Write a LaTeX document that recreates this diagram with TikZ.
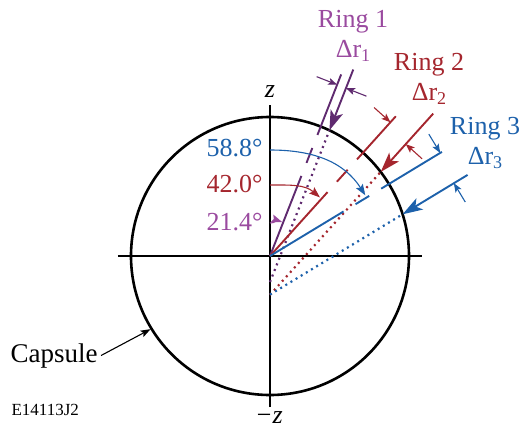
\documentclass[tikz,border=0pt]{standalone}
\usepackage{fontspec}
\setmainfont{Liberation Serif}
\usetikzlibrary{arrows.meta,calc,positioning}
\definecolor{PL}{HTML}{9A4A9F}
\definecolor{PD}{HTML}{5F2A6F}
\definecolor{RD}{HTML}{A5262E}
\definecolor{BD}{HTML}{1D61AB}
\newcommand{\ringsub}[1]{\raisebox{-4pt}{\fontsize{18}{18}\selectfont #1}}

\begin{document}
\begin{tikzpicture}[x=1pt, y=1pt,
    ray/.style={line width=1.9pt},
    sight/.style={line width=2.2pt, dash pattern=on 2pt off 4pt},
    drarrow/.style={line width=1.1pt, -{Stealth[length=9pt,width=7pt,inset=2pt]}},
    bigarrow/.style={line width=1.9pt, -{Stealth[length=20pt,width=13pt,inset=5pt]}},
    arcline/.style={line width=1.1pt, -{Stealth[length=11pt,width=8pt,inset=2pt]}},
    lbl/.style={font=\fontsize{26}{30}\selectfont}]

  \useasboundingbox (-270,-173) rectangle (254,256);

  %% capsule and axes
  \coordinate (O) at (0,0);
  \draw[line width=2.6pt] (O) circle (139);
  \coordinate (xl) at (-152,0);
  \coordinate (xr) at (152,0);
  \coordinate (zt) at (0,151);
  \coordinate (zb) at (0,-151);
  \draw[line width=2pt] (xl) -- (xr);
  \draw[line width=2pt] (zb) -- (zt);
  \node[font=\fontsize{26}{30}\selectfont\itshape] (ztop) at (0,164) {z};
  \node[font=\fontsize{26}{30}\selectfont\itshape] (zbot) at (-1,-162) {−z};

  %% rings: name/angle/offset/outer end/arrow tail/marks/colour
  \foreach \nm/\ang/\off/\souter/\stail/\tka/\tkb/\col in {
      one/68.6/9.5/195/204/184/184/PD,
      two/48/26/188/215/180/174/RD,
      three/31.2/33/201/211/199/195/BD}{
    \pgfmathsetmacro{\scirc}{139*sqrt(1-(\off/139)^2)}
    \pgfmathsetmacro{\zcut}{-\off/cos(\ang)}
    %% line through the centre
    \coordinate (\nm-a) at (\ang:86);
    \coordinate (\nm-b) at (\ang:100);
    \coordinate (\nm-c) at (\ang:116);
    \coordinate (\nm-d) at (\ang:130);
    \coordinate (\nm-e) at (\ang:\souter);
    \draw[\col, ray] (O) -- (\nm-a) (\nm-b) -- (\nm-c) (\nm-d) -- (\nm-e);
    %% shifted line of sight
    \coordinate (\nm-z) at (0,\zcut);
    \coordinate (\nm-h) at ($(\ang:\scirc)+(\ang-90:\off)$);
    \coordinate (\nm-t) at ($(\ang:\stail)+(\ang-90:\off)$);
    \draw[\col, sight] (\nm-z) -- (\nm-h);
    \draw[\col, bigarrow] (\nm-t) -- (\nm-h);
    %% delta r marks
    \coordinate (\nm-p) at (\ang:\tka);
    \coordinate (\nm-q) at ($(\ang:\tkb)+(\ang-90:\off)$);
    \coordinate (\nm-pp) at ($(\nm-p)+(\ang+90:22)$);
    \coordinate (\nm-qq) at ($(\nm-q)+(\ang-90:22)$);
    \draw[\col, drarrow] (\nm-pp) -- (\nm-p);
    \draw[\col, drarrow] (\nm-qq) -- (\nm-q);
  }

  %% viewing angles
  \coordinate (angA-s) at (0,33);
  \coordinate (angA-e) at (70:36);
  \coordinate (angB-s) at (0,71);
  \coordinate (angB-e) at (49.5:77);
  \coordinate (angC-s) at (0,106);
  \coordinate (angC-e) at (32.5:113);
  \draw[PL, arcline] (angA-s) to[out=0, in=160] (angA-e);
  \draw[RD, arcline] (angB-s) to[out=0, in=139.5] (angB-e);
  \draw[BD, arcline] (angC-s) to[out=0, in=122.5] (angC-e);
  \node[lbl, PL, anchor=east] (angA) at (-4,34) {21.4°};
  \node[lbl, RD, anchor=east] (angB) at (-4,72) {42.0°};
  \node[lbl, BD, anchor=east] (angC) at (-4,108) {58.8°};

  %% ring labels
  \node[lbl, PL, align=center] (ringA) at (83,220) {Ring 1\\Δr\ringsub{1}};
  \node[lbl, RD, align=center] (ringB) at (159,177) {Ring 2\\Δr\ringsub{2}};
  \node[lbl, BD, align=center] (ringC) at (215,113) {Ring 3\\Δr\ringsub{3}};

  %% capsule label
  \coordinate (caps-hit) at (211.5:140);
  \node[font=\fontsize{27}{30}\selectfont, anchor=base west] (caps) at (-263,-106) {Capsule};
  \draw[line width=1.1pt, -{Stealth[length=10pt,width=7pt,inset=2pt]}]
    (caps.east) -- (caps-hit);

  \node[font=\fontsize{17}{19}\selectfont, anchor=west] (fig) at (-262,-154) {E14113J2};

\end{tikzpicture}
\end{document}
